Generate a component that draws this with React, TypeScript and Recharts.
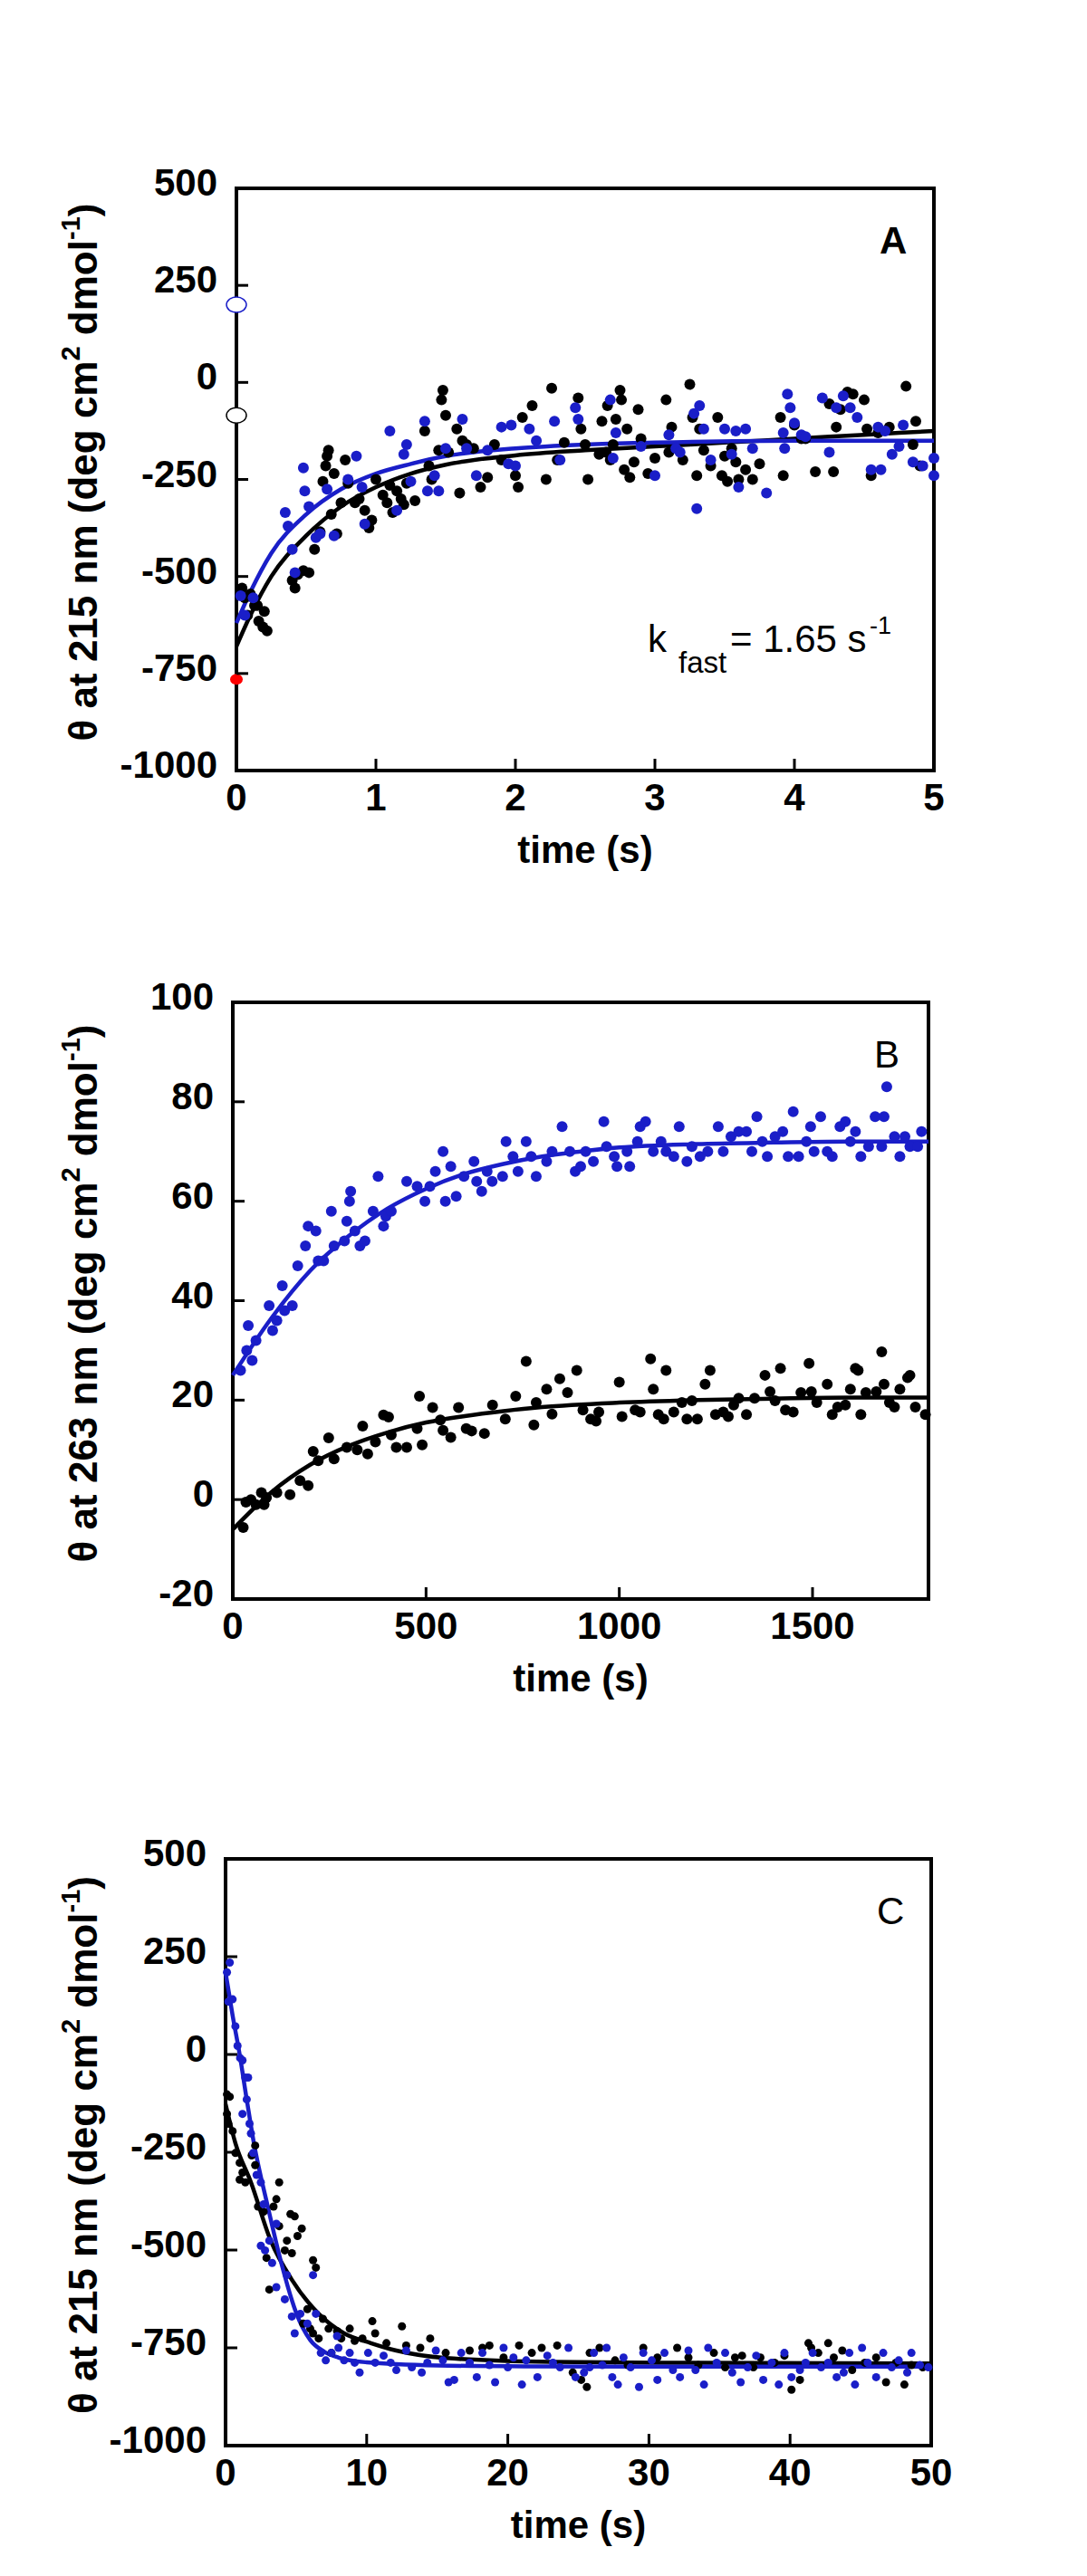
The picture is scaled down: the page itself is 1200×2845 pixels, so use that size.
import React from 'react';
import { ComposedChart, Scatter, Line, XAxis, YAxis, ReferenceArea } from 'recharts';

type Pt = [number, number];

const FONT = "'Liberation Sans', Arial, Helvetica, sans-serif";
const BLUE = '#1a1ec8';
const BLACK = '#000000';

// ---- panel A: 215 nm, 0-5 s
const aTicksX = [0, 1, 2, 3, 4, 5];
const aTicksY = [-1000, -750, -500, -250, 0, 250, 500];
const aBlack: Pt[] = [
  [0.04, -530], [0.06, -555], [0.08, -600], [0.1, -545], [0.13, -575], [0.15, -575], [0.16, -615], [0.19, -630], [0.2, -590], [0.22, -640],
  [0.4, -510], [0.42, -530], [0.44, -495], [0.48, -485], [0.52, -490], [0.56, -430], [0.6, -385], [0.62, -255], [0.64, -215], [0.65, -190],
  [0.66, -175], [0.68, -340], [0.7, -235], [0.72, -390], [0.75, -310], [0.78, -200], [0.8, -260], [0.85, -310], [0.88, -300], [0.92, -330],
  [0.95, -375], [0.97, -355], [1.0, -250], [1.05, -290], [1.08, -310], [1.1, -265], [1.12, -335], [1.15, -280], [1.18, -300], [1.2, -315],
  [1.22, -260], [1.28, -305], [1.35, -125], [1.38, -215], [1.4, -250], [1.45, -175], [1.47, -45], [1.48, -20], [1.5, -85], [1.52, -180],
  [1.58, -120], [1.6, -285], [1.62, -150], [1.65, -160], [1.7, -170], [1.75, -270], [1.8, -245], [1.85, -160], [1.9, -200], [2.0, -240],
  [2.02, -270], [2.05, -90], [2.12, -60], [2.22, -250], [2.26, -15], [2.3, -200], [2.35, -155], [2.45, -40], [2.47, -120], [2.5, -160],
  [2.52, -250], [2.6, -185], [2.62, -100], [2.65, -180], [2.66, -60], [2.68, -200], [2.7, -160], [2.72, -95], [2.75, -20], [2.76, -45],
  [2.78, -225], [2.8, -120], [2.82, -245], [2.85, -205], [2.88, -70], [2.9, -145], [2.95, -235], [3.0, -195], [3.08, -45], [3.1, -180],
  [3.12, -115], [3.2, -200], [3.25, -5], [3.27, -90], [3.3, -240], [3.32, -120], [3.35, -175], [3.4, -215], [3.45, -90], [3.48, -240],
  [3.5, -190], [3.52, -255], [3.55, -170], [3.58, -205], [3.6, -250], [3.65, -225], [3.7, -250], [3.75, -210], [3.9, -90], [3.92, -240],
  [4.0, -110], [4.05, -145], [4.08, -145], [4.15, -230], [4.25, -55], [4.28, -230], [4.3, -115], [4.33, -70], [4.38, -25], [4.42, -30],
  [4.5, -45], [4.52, -120], [4.55, -240], [4.6, -130], [4.68, -115], [4.8, -10], [4.85, -160], [4.87, -100], [4.9, -215],
];
const aBlue: Pt[] = [
  [0.03, -550], [0.06, -600], [0.12, -555], [0.35, -335], [0.37, -370], [0.4, -430], [0.42, -490], [0.48, -220], [0.49, -280], [0.52, -320],
  [0.57, -400], [0.6, -390], [0.65, -275], [0.7, -395], [0.8, -250], [0.86, -190], [0.9, -270], [0.92, -365], [1.1, -125], [1.15, -330],
  [1.2, -185], [1.22, -160], [1.25, -255], [1.35, -100], [1.37, -280], [1.42, -240], [1.45, -280], [1.5, -170], [1.62, -95], [1.65, -170],
  [1.72, -240], [1.8, -175], [1.9, -115], [1.95, -210], [1.97, -110], [2.0, -215], [2.1, -120], [2.15, -150], [2.28, -100], [2.32, -200],
  [2.43, -65], [2.45, -95], [2.68, -45], [2.7, -195], [2.72, -130], [2.9, -165], [3.0, -240], [3.1, -135], [3.15, -170], [3.18, -180],
  [3.28, -80], [3.3, -325], [3.32, -60], [3.35, -120], [3.4, -200], [3.5, -120], [3.55, -185], [3.58, -125], [3.6, -270], [3.65, -120],
  [3.7, -170], [3.8, -285], [3.92, -130], [3.93, -170], [3.95, -30], [3.97, -65], [4.0, -105], [4.05, -135], [4.08, -140], [4.2, -40],
  [4.25, -180], [4.3, -65], [4.35, -35], [4.4, -65], [4.45, -90], [4.55, -225], [4.6, -115], [4.62, -225], [4.65, -125], [4.7, -185],
  [4.75, -165], [4.78, -110], [4.85, -205], [4.92, -215], [5.0, -195], [5.0, -240],
];
const aBlackFit: Pt[] = [
  [0, -680], [0.1, -600], [0.25, -500], [0.5, -395], [0.75, -320], [1, -270], [1.25, -235], [1.5, -212], [2, -188], [2.5, -175],
  [3, -165], [3.5, -155], [4, -145], [4.5, -135], [5, -125],
];
const aBlueFit: Pt[] = [
  [0, -620], [0.1, -540], [0.25, -440], [0.5, -340], [0.75, -275], [1, -235], [1.25, -210], [1.5, -190], [2, -170], [2.5, -160],
  [3, -155], [4, -150], [5, -150],
];
const aStartBlue: Pt[] = [[0, 200]];
const aStartBlack: Pt[] = [[0, -85]];
const aStartRed: Pt[] = [[0, -765]];

// ---- panel B: 263 nm, 0-1800 s
const bTicksX = [0, 500, 1000, 1500];
const bTicksY = [-20, 0, 20, 40, 60, 80, 100];
const bBlue: Pt[] = [
  [20, 26], [36, 30], [40, 35], [50, 28], [60, 32], [94, 39], [103, 34], [114, 36], [128, 43], [134, 38],
  [154, 39], [168, 47], [188, 51], [195, 55], [215, 54], [221, 48], [235, 48], [255, 58], [262, 51], [289, 52],
  [295, 56], [302, 60], [305, 62], [316, 54], [329, 51], [342, 52], [363, 58], [376, 65], [390, 55], [396, 57],
  [410, 58], [450, 64], [477, 63], [497, 60], [510, 63], [524, 66], [544, 70], [550, 60], [564, 67], [578, 61],
  [598, 65], [624, 68], [631, 64], [644, 62], [658, 66], [671, 64], [698, 65], [707, 72], [725, 69], [738, 66],
  [759, 72], [772, 69], [785, 65], [812, 68], [826, 70], [852, 75], [872, 70], [886, 66], [900, 67], [913, 70],
  [933, 68], [960, 76], [967, 71], [987, 69], [994, 67], [1020, 70], [1027, 67], [1047, 72], [1054, 75], [1068, 76],
  [1088, 70], [1108, 72], [1121, 70], [1141, 69], [1155, 75], [1175, 68], [1188, 71], [1209, 69], [1229, 70], [1256, 75],
  [1269, 70], [1289, 73], [1309, 74], [1329, 74], [1343, 70], [1356, 77], [1370, 72], [1383, 69], [1403, 73], [1423, 74],
  [1437, 69], [1450, 78], [1464, 69], [1484, 72], [1495, 75], [1504, 70], [1521, 77], [1538, 70], [1551, 69], [1571, 75],
  [1585, 76], [1598, 72], [1611, 74], [1625, 69], [1645, 71], [1662, 77], [1679, 71], [1685, 77], [1692, 83], [1712, 73],
  [1726, 69], [1739, 73], [1752, 71], [1772, 71], [1782, 74],
];
const bBlack: Pt[] = [
  [27, -5.6], [34, -0.5], [47, 0], [60, -1], [74, 1.4], [81, -1], [87, 0.4], [114, 1.4], [148, 1], [174, 3.8],
  [195, 2.8], [208, 9.7], [221, 7.8], [248, 12.4], [262, 8.2], [295, 10.5], [322, 10], [336, 14.8], [349, 9.2], [369, 11.6],
  [390, 17], [403, 16.6], [410, 13], [423, 10.5], [450, 10.5], [477, 14.3], [483, 20.8], [490, 11], [517, 18.5], [537, 16],
  [544, 13.9], [564, 12.5], [584, 18.5], [604, 14.3], [618, 13.8], [651, 13.3], [672, 19], [705, 16.2], [732, 20.8], [759, 27.8],
  [779, 15], [785, 19.5], [812, 22.2], [826, 17.2], [846, 24.3], [866, 21.5], [890, 26], [906, 18], [926, 16.2], [940, 15.8],
  [947, 17.6], [1000, 23.6], [1007, 16.7], [1041, 18], [1054, 17.6], [1081, 28.3], [1088, 22.2], [1101, 17.1], [1115, 16.2], [1121, 26],
  [1141, 17.6], [1162, 19.5], [1175, 16.2], [1188, 19.9], [1202, 16.2], [1222, 23.2], [1235, 26], [1249, 17.1], [1269, 17.6], [1282, 16.7],
  [1296, 19], [1309, 20.4], [1329, 17.1], [1350, 20.4], [1377, 25], [1390, 21.7], [1403, 19.9], [1417, 26.4], [1430, 18], [1450, 17.6],
  [1470, 21.5], [1491, 27.4], [1497, 21.7], [1511, 19.5], [1538, 23.2], [1551, 17.1], [1565, 18.6], [1585, 19], [1598, 22.2], [1611, 26.4],
  [1618, 26], [1625, 17.1], [1638, 21.5], [1665, 21.7], [1679, 29.7], [1685, 23.2], [1699, 19.5], [1712, 18.6], [1726, 22.2], [1746, 24.5],
  [1752, 25], [1766, 18.6], [1792, 17.1],
];
const bBlueFit: Pt[] = [
  [0, 25], [100, 36.5], [200, 46], [300, 53], [400, 58.5], [500, 62.5], [600, 65.5], [700, 67.5], [800, 69], [900, 70],
  [1000, 70.8], [1200, 71.5], [1400, 71.8], [1600, 72], [1800, 72],
];
const bBlackFit: Pt[] = [
  [0, -6], [100, 1.5], [200, 7], [300, 10.8], [400, 13.5], [500, 15.5], [600, 16.8], [700, 17.8], [800, 18.6], [1000, 19.5],
  [1200, 20], [1400, 20.3], [1600, 20.5], [1800, 20.5],
];

// ---- panel C: 215 nm, 0-50 s
const cTicksX = [0, 10, 20, 30, 40, 50];
const cTicksY = [-1000, -750, -500, -250, 0, 250, 500];
const cBlue: Pt[] = [
  [0.1, 210], [0.3, 235], [0.2, 135], [0.5, 141], [0.7, 72], [0.85, 22], [1.03, -9], [1.2, -15], [1.4, -59], [1.5, -115],
  [1.2, -152], [1.6, -59], [1.7, -177], [1.8, -202], [1.95, -252], [2.2, -308], [2.5, -327], [2.7, -383], [2.5, -489], [2.8, -501],
  [3.1, -476], [3.3, -533], [3.6, -433], [3.6, -595], [4.2, -626], [4.35, -564], [4.7, -670], [4.9, -713], [5.3, -663], [5.8, -688],
  [6.2, -564], [6.4, -663], [6.75, -763], [7.1, -782], [7.5, -763], [7.9, -720], [8.0, -750], [8.4, -782], [8.8, -763], [9.15, -788],
  [9.5, -813], [10.1, -763], [10.6, -788], [11.2, -770], [11.7, -788], [12.1, -807], [12.8, -757], [13.2, -800], [13.9, -813], [14.3, -788],
  [14.9, -757], [15.4, -782], [15.8, -838], [16.2, -832], [16.7, -763], [17.3, -788], [17.8, -825], [18.2, -763], [18.7, -794], [19.1, -838],
  [19.7, -750], [20.0, -800], [20.4, -775], [21.0, -844], [21.3, -782], [22.1, -825], [22.8, -770], [23.2, -788], [23.7, -800], [24.3, -750],
  [24.8, -825], [25.4, -813], [25.8, -800], [26.1, -763], [26.7, -794], [27.0, -750], [27.4, -825], [27.8, -844], [28.2, -775], [28.7, -800],
  [29.3, -850], [29.6, -763], [30.2, -782], [30.6, -832], [31.1, -763], [31.7, -807], [32.2, -825], [32.8, -757], [33.3, -807], [33.9, -844],
  [34.2, -750], [34.8, -788], [35.4, -763], [35.9, -813], [36.5, -838], [37.0, -800], [37.6, -770], [38.1, -832], [38.7, -788], [39.2, -844],
  [39.6, -763], [40.1, -825], [40.7, -807], [41.1, -788], [41.6, -763], [42.2, -800], [42.7, -788], [43.3, -825], [43.8, -813], [44.2, -763],
  [44.6, -844], [45.1, -750], [45.5, -788], [46.1, -825], [46.6, -763], [47.2, -800], [47.7, -782], [48.3, -813], [48.6, -763], [49.2, -794],
  [49.8, -800],
];
const cBlack: Pt[] = [
  [0.1, -102], [0.3, -108], [0.1, -152], [0.2, -177], [0.5, -196], [0.7, -252], [1.0, -277], [1.0, -320], [1.2, -302], [1.4, -327],
  [1.85, -258], [2.1, -233], [2.1, -283], [2.3, -389], [2.7, -402], [2.9, -520], [3.1, -601], [3.4, -389], [3.6, -370], [3.8, -327],
  [3.8, -439], [4.2, -501], [4.35, -476], [4.6, -408], [4.7, -508], [4.9, -414], [5.1, -464], [5.4, -445], [5.5, -688], [5.8, -651],
  [6.0, -701], [6.2, -526], [6.4, -545], [6.2, -713], [6.6, -726], [6.9, -676], [7.3, -701], [7.5, -763], [7.9, -707], [8.2, -726],
  [8.8, -701], [9.15, -732], [9.7, -726], [10.4, -682], [10.6, -713], [11.4, -738], [12.5, -695], [12.8, -744], [13.8, -750], [14.5, -726],
  [15.6, -763], [17.3, -757], [18.2, -750], [18.7, -744], [19.7, -775], [20.8, -744], [21.7, -763], [22.4, -750], [23.5, -744], [24.6, -813],
  [25.2, -832], [25.6, -850], [25.8, -763], [26.5, -750], [27.6, -782], [28.5, -794], [29.6, -750], [30.6, -775], [32.0, -750], [32.8, -775],
  [33.5, -794], [34.6, -763], [35.4, -800], [36.1, -775], [36.6, -770], [37.4, -800], [37.9, -775], [38.9, -788], [39.6, -770], [40.1, -857],
  [40.7, -832], [41.3, -738], [41.5, -750], [42.0, -763], [42.7, -738], [43.1, -775], [43.7, -757], [44.4, -807], [45.3, -788], [46.1, -775],
  [46.8, -838], [47.5, -788], [48.1, -844], [48.6, -794], [49.4, -800],
];
const cBlueFit: Pt[] = [
  [0, 210], [0.5, 100], [1, 0], [1.5, -115], [2, -225], [3, -390], [4, -540], [5, -660], [6, -730], [7, -760],
  [8, -775], [10, -787], [15, -795], [20, -797], [30, -798], [40, -798], [50, -798],
];
const cBlackFit: Pt[] = [
  [0, -127], [0.7, -227], [1.8, -327], [3.2, -476], [4.7, -576], [6.6, -663], [8.4, -713], [10.3, -738], [12.1, -757], [15.6, -776],
  [23, -786], [30.6, -788], [50, -790],
];

const toXY = (pts: Pt[]) => pts.map(([x, y]) => ({ x, y }));

type Box = { l: number; t: number; r: number; b: number };

interface DotSet {
  pts: Pt[];
  color: string;
  r: number;
}

interface PanelProps {
  top: number;
  height: number;
  box: Box;
  xDomain: [number, number];
  yDomain: [number, number];
  xTicks: number[];
  yTicks: number[];
  dots: DotSet[];
  fits: { pts: Pt[]; color: string }[];
  wavelength: string;
  letter: string;
  letterBold: boolean;
  starts?: boolean;
  children?: React.ReactNode;
}

const Panel: React.FC<PanelProps> = (p) => {
  const { top, height, box } = p;
  const bt = box.t - top;
  const bb = box.b - top;

  const YTick = (props: any) => {
    const { y, payload } = props;
    return (
      <g>
        <line x1={box.l} x2={box.l + 13} y1={y} y2={y} stroke="#000" strokeWidth={3} />
        <text x={box.l - 21} y={y + 8} textAnchor="end" fontFamily={FONT} fontSize={42} fontWeight="bold" fill="#000">
          {payload.value}
        </text>
      </g>
    );
  };

  const XTick = (props: any) => {
    const { x, payload } = props;
    return (
      <g>
        <line x1={x} x2={x} y1={bb} y2={bb - 13} stroke="#000" strokeWidth={3} />
        <text x={x} y={bb + 44} textAnchor="middle" fontFamily={FONT} fontSize={42} fontWeight="bold" fill="#000">
          {payload.value}
        </text>
      </g>
    );
  };

  const cy = (bt + bb) / 2 - 8;

  return (
    <div style={{ position: 'absolute', left: 0, top, width: 1200, height }}>
      <ComposedChart
        width={1200}
        height={height}
        margin={{ top: bt, left: box.l - 100, right: 1200 - box.r, bottom: height - bb - 60 }}
      >
        <XAxis
          type="number"
          dataKey="x"
          domain={p.xDomain}
          ticks={p.xTicks}
          interval={0}
          height={60}
          axisLine={false}
          tickLine={false}
          tick={XTick}
        />
        <YAxis
          type="number"
          dataKey="y"
          domain={p.yDomain}
          ticks={p.yTicks}
          interval={0}
          width={100}
          axisLine={false}
          tickLine={false}
          tick={YTick}
        />
        {p.dots.map((d, i) => (
          <Scatter
            key={'d' + i}
            data={toXY(d.pts)}
            isAnimationActive={false}
            shape={(s: any) => <circle cx={s.cx} cy={s.cy} r={d.r} fill={d.color} />}
          />
        ))}
        {p.fits.map((f, i) => (
          <Line
            key={'f' + i}
            data={toXY(f.pts)}
            dataKey="y"
            type="monotone"
            stroke={f.color}
            strokeWidth={4.5}
            dot={false}
            activeDot={false}
            isAnimationActive={false}
          />
        ))}
        {p.starts && (
          <Scatter
            data={toXY(aStartBlue)}
            isAnimationActive={false}
            shape={(s: any) => <ellipse cx={s.cx} cy={s.cy} rx={11} ry={8.5} fill="#fff" stroke={BLUE} strokeWidth={1.5} />}
          />
        )}
        {p.starts && (
          <Scatter
            data={toXY(aStartBlack)}
            isAnimationActive={false}
            shape={(s: any) => <ellipse cx={s.cx} cy={s.cy} rx={11} ry={8.5} fill="#fff" stroke={BLACK} strokeWidth={1.5} />}
          />
        )}
        {p.starts && (
          <Scatter
            data={toXY(aStartRed)}
            isAnimationActive={false}
            shape={(s: any) => <ellipse cx={s.cx} cy={s.cy} rx={7} ry={6} fill="#ff0000" />}
          />
        )}
        <ReferenceArea
          x1={p.xDomain[0]}
          x2={p.xDomain[1]}
          y1={p.yDomain[0]}
          y2={p.yDomain[1]}
          fill="none"
          stroke="#000"
          strokeWidth={4}
          ifOverflow="visible"
        />
      </ComposedChart>
      <svg
        width={1200}
        height={height}
        style={{ position: 'absolute', left: 0, top: 0, pointerEvents: 'none' }}
        fontFamily={FONT}
      >
        <text
          transform={`translate(107, ${cy}) rotate(-90)`}
          textAnchor="middle"
          fontSize={44}
          fontWeight="bold"
          fill="#000"
        >
          {`θ at ${p.wavelength} nm (deg cm`}
          <tspan dy={-19} fontSize={29}>2</tspan>
          <tspan dy={19}> dmol</tspan>
          <tspan dy={-19} fontSize={29}>-1</tspan>
          <tspan dy={19}>)</tspan>
        </text>
        <text x={(box.l + box.r) / 2} y={bb + 102} textAnchor="middle" fontSize={42} fontWeight="bold" fill="#000">
          time (s)
        </text>
        <text
          x={box.r - 60}
          y={bt + 72}
          fontSize={42}
          fontWeight={p.letterBold ? 'bold' : 'normal'}
          fill="#000"
        >
          {p.letter}
        </text>
        {p.children}
      </svg>
    </div>
  );
};

export default function App() {
  return (
    <div style={{ position: 'absolute', left: 0, top: 0, width: 1200, height: 2845, background: '#fff' }}>
      <Panel
        top={0}
        height={1000}
        box={{ l: 261, t: 208, r: 1031, b: 851 }}
        xDomain={[0, 5]}
        yDomain={[-1000, 500]}
        xTicks={aTicksX}
        yTicks={aTicksY}
        dots={[
          { pts: aBlack, color: BLACK, r: 6 },
          { pts: aBlue, color: BLUE, r: 6 },
        ]}
        fits={[
          { pts: aBlackFit, color: BLACK },
          { pts: aBlueFit, color: BLUE },
        ]}
        wavelength="215"
        letter="A"
        letterBold
        starts
      >
        <text x={715} y={720} fontSize={42} fill="#000">k</text>
        <text x={749} y={743} fontSize={33} fill="#000">fast</text>
        <text x={806} y={720} fontSize={42} fill="#000">= 1.65 s</text>
        <text x={960} y={700} fontSize={27} fill="#000">-1</text>
      </Panel>
      <Panel
        top={1000}
        height={900}
        box={{ l: 257, t: 1107, r: 1025, b: 1766 }}
        xDomain={[0, 1800]}
        yDomain={[-20, 100]}
        xTicks={bTicksX}
        yTicks={bTicksY}
        dots={[
          { pts: bBlue, color: BLUE, r: 6 },
          { pts: bBlack, color: BLACK, r: 6 },
        ]}
        fits={[
          { pts: bBlueFit, color: BLUE },
          { pts: bBlackFit, color: BLACK },
        ]}
        wavelength="263"
        letter="B"
        letterBold={false}
      />
      <Panel
        top={1900}
        height={945}
        box={{ l: 249, t: 2053, r: 1028, b: 2701 }}
        xDomain={[0, 50]}
        yDomain={[-1000, 500]}
        xTicks={cTicksX}
        yTicks={cTicksY}
        dots={[
          { pts: cBlack, color: BLACK, r: 4.5 },
          { pts: cBlue, color: BLUE, r: 4.5 },
        ]}
        fits={[
          { pts: cBlackFit, color: BLACK },
          { pts: cBlueFit, color: BLUE },
        ]}
        wavelength="215"
        letter="C"
        letterBold={false}
      />
    </div>
  );
}
